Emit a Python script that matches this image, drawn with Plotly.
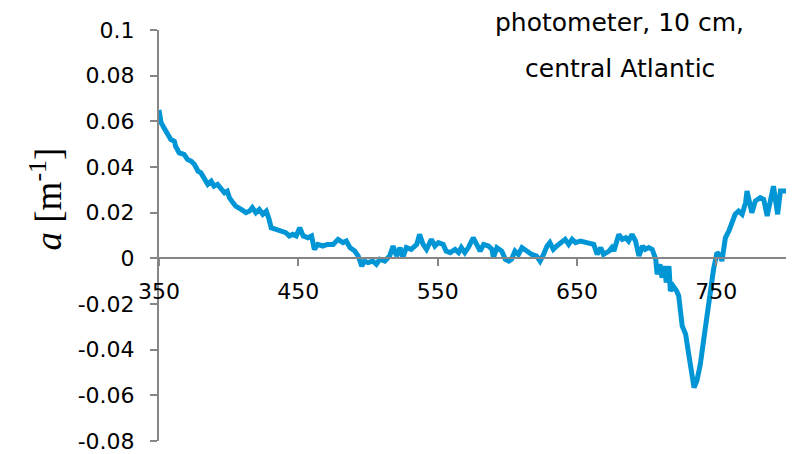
import plotly.graph_objects as go

# Absorption spectrum, photometer measurement (10 cm path), central Atlantic
wavelength = [
    350, 351.5, 355, 358.5, 361, 362, 364.5, 368, 370.5, 373, 375.5, 378, 380, 382.5,
    385, 387.5, 389.5, 392, 394.5, 397, 399, 400.5, 403, 405, 409, 412.5, 415, 417,
    419.5, 422, 424.5, 427, 429, 430.5, 434, 437.5, 441, 443.5, 446, 448.5, 451, 453.5,
    457, 459.5, 461.5, 464, 467.5, 471, 475, 478.5, 482, 484.5, 487, 490.5, 493, 495.5,
    497.5, 500, 503.5, 506, 508.5, 512, 515.5, 518, 520.5, 523, 525, 527.5, 531, 535,
    537, 539.5, 542, 545.5, 548, 550.5, 554, 556, 559, 562.5, 565, 567, 569.5, 572,
    575.5, 578, 580.5, 583, 586.5, 589, 590, 592.5, 596, 598.5, 601, 603, 605.5, 608,
    610.5, 614, 617.5, 621, 623.5, 626, 628.5, 630.5, 633, 635.5, 638, 641.5, 644,
    646.5, 649, 652.5, 657, 662, 664.5, 667, 669, 673, 675, 676.5, 680, 682.5, 685,
    687, 689.5, 692, 694.5, 697, 699, 701.5, 704, 706.5, 707.5, 709.5, 711, 713, 714,
    716, 717, 719, 721.5, 723, 725.5, 728, 730, 732, 734, 736, 738.5, 741, 743.5,
    745.5, 748, 750.5, 753, 754, 756.5, 759, 761, 763.5, 766, 768.5, 771, 772, 775.5,
    778, 781.5, 784, 786.5, 789, 791, 794, 796, 800,
]
absorption = [
    0.065, 0.0594, 0.0557, 0.052, 0.0513, 0.049, 0.0462, 0.0455, 0.0433, 0.0426, 0.0411,
    0.0382, 0.0375, 0.0353, 0.0324, 0.0338, 0.0316, 0.0324, 0.0302, 0.0287, 0.0294,
    0.0266, 0.0244, 0.0229, 0.0214, 0.02, 0.0207, 0.0222, 0.02, 0.0214, 0.0193, 0.0207,
    0.0171, 0.0134, 0.0127, 0.012, 0.0112, 0.0098, 0.0105, 0.0098, 0.0134, 0.0098,
    0.009, 0.0098, 0.0039, 0.0061, 0.0054, 0.0061, 0.0061, 0.0083, 0.0069, 0.0076,
    0.0047, 0.0032, 0.001, -0.0034, -0.0012, -0.0019, -0.0012, -0.0026, -0.0004,
    -0.0012, 0.001, 0.0054, 0.001, 0.0047, 0.0003, 0.0047, 0.0039, 0.0061, 0.0105,
    0.0061, 0.0039, 0.0083, 0.0054, 0.0069, 0.0061, 0.0032, 0.0025, 0.0039, 0.0025,
    0.0047, 0.0025, 0.0047, 0.009, 0.0061, 0.0032, 0.0061, 0.0054, 0.0039, 0.0003,
    0.0047, 0.0032, -0.0004, -0.0012, -0.0004, 0.0032, 0.0017, 0.0047, 0.0032, 0.0017,
    0.001, -0.0012, 0.0017, 0.0054, 0.0069, 0.0039, 0.0054, 0.0069, 0.0083, 0.0061,
    0.0083, 0.0069, 0.0076, 0.0069, 0.0061, 0.0017, 0.0047, 0.0017, 0.0032, 0.0047,
    0.0032, 0.0105, 0.0083, 0.009, 0.0076, 0.0105, 0.0076, 0.001, 0.0054, 0.0039,
    0.0047, 0.0039, -0.0004, -0.007, -0.0026, -0.0085, -0.0034, -0.0106, -0.0034,
    -0.0143, -0.0121, -0.0143, -0.0165, -0.0296, -0.0333, -0.0413, -0.05, -0.0566,
    -0.0537, -0.0464, -0.0354, -0.0238, -0.0136, -0.0048, 0.0025, 0.001, -0.0012,
    0.009, 0.012, 0.0149, 0.0193, 0.0207, 0.0193, 0.0244, 0.0295, 0.02, 0.0251,
    0.0266, 0.0258, 0.0185, 0.0273, 0.0316, 0.0193, 0.0295, 0.0295,
]

x_ticks = [350, 450, 550, 650, 750]
y_ticks = [0.1, 0.08, 0.06, 0.04, 0.02, 0, -0.02, -0.04, -0.06, -0.08]
y_tick_text = ["0.1", "0.08", "0.06", "0.04", "0.02", "0",
               "-0.02", "-0.04", "-0.06", "-0.08"]
x_range = [350, 800]
y_range = [-0.08, 0.1]

axis_grey = "#868686"
tick_font = dict(family="DejaVu Sans", size=22, color="black")
serif = "Liberation Serif, Times New Roman, DejaVu Serif, serif"

fig = go.Figure(
    go.Scatter(
        x=wavelength,
        y=absorption,
        mode="lines",
        line=dict(color="#0096D6", width=5),
        hoverinfo="skip",
    )
)

# x axis crosses the y axis at zero
zero_pos = (0 - y_range[0]) / (y_range[1] - y_range[0])

fig.update_layout(
    width=793,
    height=454,
    margin=dict(l=159, r=7, t=30, b=13),
    paper_bgcolor="white",
    plot_bgcolor="white",
    showlegend=False,
    xaxis=dict(
        range=x_range,
        tickvals=x_ticks,
        ticktext=[str(v) for v in x_ticks],
        showgrid=False,
        zeroline=False,
        showline=True,
        linecolor=axis_grey,
        linewidth=2,
        ticks="outside",
        ticklen=7,
        tickwidth=2,
        tickcolor=axis_grey,
        tickfont=tick_font,
        ticklabelstandoff=6,
        anchor="free",
        position=zero_pos,
        automargin=False,
    ),
    yaxis=dict(
        range=y_range,
        tickvals=y_ticks,
        ticktext=y_tick_text,
        showgrid=False,
        zeroline=False,
        showline=True,
        linecolor=axis_grey,
        linewidth=2,
        ticks="outside",
        ticklen=7,
        tickwidth=2,
        tickcolor=axis_grey,
        tickfont=tick_font,
        ticklabelstandoff=11,
        automargin=False,
    ),
    annotations=[
        dict(
            text="<i>a</i> [m<sup>-1</sup>]",
            xref="paper", yref="paper",
            x=-0.18, y=0.588,
            xanchor="center", yanchor="middle",
            textangle=-90,
            showarrow=False,
            font=dict(family=serif, size=37, color="black"),
        ),
        dict(
            text="photometer, 10 cm,",
            xref="paper", yref="paper",
            x=0.735, y=1.018,
            xanchor="center", yanchor="middle",
            showarrow=False,
            font=dict(family="DejaVu Sans", size=25, color="black"),
        ),
        dict(
            text="central Atlantic",
            xref="paper", yref="paper",
            x=0.735, y=0.9075,
            xanchor="center", yanchor="middle",
            showarrow=False,
            font=dict(family="DejaVu Sans", size=25, color="black"),
        ),
    ],
)

fig.write_html("out.html")
